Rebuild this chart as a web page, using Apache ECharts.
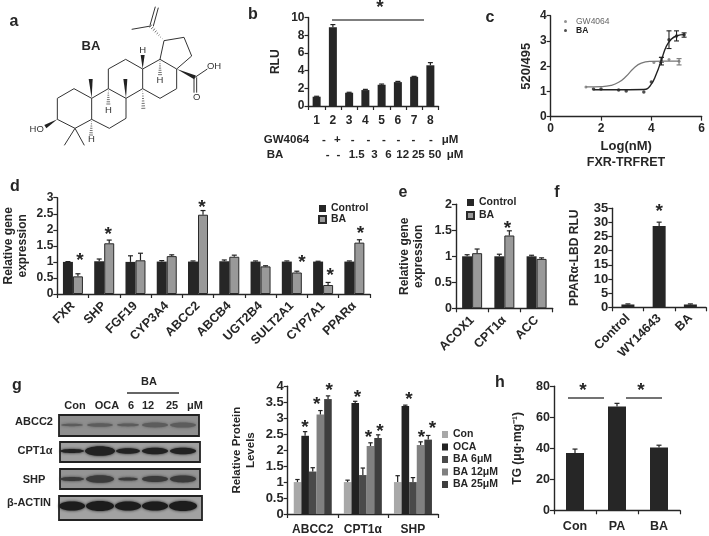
<!DOCTYPE html>
<html><head><meta charset="utf-8">
<script src="https://cdn.jsdelivr.net/npm/echarts@6/dist/echarts.min.js"></script>
<style>html,body{margin:0;padding:0;background:#fff}#c{width:709px;height:536px;filter:blur(0.4px)}</style>
</head><body><div id="c"></div>
<script>
// ---------- data ----------
const bCats = ['1','2','3','4','5','6','7','8'];
const bVals = [1.05,8.9,1.5,1.8,2.4,2.7,3.3,4.6];
const bErrs = [0.05,0.3,0.05,0.08,0.08,0.08,0.05,0.3];
const cGwCurve = [[1.4,1.18],[2,1.19],[2.4,1.24],[2.7,1.36],[3,1.6],[3.3,1.92],[3.6,2.12],[4,2.19],[4.5,2.2],[5.1,2.2]];
const cBaCurve = [[1.7,1.07],[2.5,1.07],[3.7,1.08],[3.95,1.22],[4.2,1.7],[4.4,2.25],[4.6,2.8],[4.8,3.08],[5,3.2],[5.3,3.25]];
const cGwPts = [[1.4,1.18],[4.1,2.15],[4.4,2.3],[4.7,2.27],[5.1,2.2]];
const cBaPts = [[1.7,1.1],[2,1.1],[2.7,1.06],[3,1.02],[3.7,0.98],[4,1.37],[4.4,2.2],[4.7,3.05],[5,3.2],[5.3,3.25]];
const cGwErr = [[5.1,2.05,2.3],[4.4,2.15,2.35]];
const cBaErr = [[4.7,2.7,3.4],[5,3.0,3.4],[5.3,3.15,3.32],[4.4,2.05,2.35]];
const dCats = ['FXR','SHP','FGF19','CYP3A4','ABCC2','ABCB4','UGT2B4','SULT2A1','CYP7A1','PPARα'];
const dCtrl = [1,1.02,1,1.01,1.01,1.02,1.01,1.01,1.01,1.01];
const dCtrlErr = [0.01,0.07,0.19,0.03,0.02,0.04,0.02,0.02,0.01,0.02];
const dBA = [0.55,1.58,1.05,1.18,2.47,1.16,0.86,0.67,0.28,1.6];
const dBAErr = [0.08,0.1,0.22,0.04,0.13,0.05,0.02,0.04,0.08,0.09];
const dStars = [[0,1.13],[1,1.94],[4,2.79],[7,1.06],[8,0.67],[9,1.96]];
const eCats = ['ACOX1','CPT1α','ACC'];
const eCtrl = [1,1,1];
const eCtrlErr = [0.03,0.04,0.02];
const eBA = [1.06,1.4,0.95];
const eBAErr = [0.08,0.09,0.02];
const eStars = [[1,1.59]];
const fCats = ['Control','WY14643','BA'];
const fVals = [1,28.7,1];
const fErrs = [0.2,1.4,0.2];
const fStars = [[1,35]];
const gCats = ['ABCC2','CPT1α','SHP'];
const gNames = ['Con','OCA','BA 6μM','BA 12μM','BA 25μM'];
const gVals = [[1,1,1],[2.45,3.48,3.38],[1.33,1.22,1],[3.12,2.13,2.16],[3.6,2.38,2.33]];
const gErrs = [[0.08,0.06,0.2],[0.13,0.05,0.03],[0.12,0.22,0.14],[0.12,0.1,0.1],[0.1,0.1,0.13]];
const gStars = [[0,1,2.78],[0,3,3.5],[0,4,3.94],[1,1,3.75],[1,3,2.49],[1,4,2.68],[2,1,3.68],[2,3,2.49],[2,4,2.77]];
const hCats = ['Con','PA','BA'];
const hVals = [37,67,40.5];
const hErrs = [2.5,2,1.5];
const gwRow = ['-','+','-','-','-','-','-','-','μM'];
const baRow = ['-','-','1.5','3','6','12','25','50','μM'];
const blotLanes = ['Con','OCA','6','12','25','μM'];
const blotRows = ['ABCC2','CPT1α','SHP','β-ACTIN'];

// ---------- style ----------
const F = '"Liberation Sans", Arial, sans-serif';
const INK = '#262626';
const DARK = '#262626', GREY = '#999999';
const gColors = ['#a8a8a8','#222222','#4a4a4a','#808080','#3e3e3e'];
const axisLine = {show:true,lineStyle:{color:INK,width:1.4}};
const axisTick = {show:true,length:4,lineStyle:{color:INK,width:1.2}};
const lbl = (size,extra)=>Object.assign({color:INK,fontFamily:F,fontWeight:'bold',fontSize:size,margin:4},extra||{});

const grids = [
 {left:308.5,top:17.5,width:130,height:88.5},   // b
 {left:550.7,top:15.7,width:151,height:101},    // c
 {left:57.3,top:197.7,width:312.7,height:96.3}, // d
 {left:456,top:204.3,width:96.7,height:104},    // e
 {left:612.3,top:208.3,width:93.7,height:99},   // f
 {left:287.7,top:386.3,width:150.3,height:129.4},// g
 {left:554,top:386.3,width:126,height:124}      // h
];
const xCat = (i,cats,size,extra)=>({type:'category',gridIndex:i,data:cats,axisLine,axisTick:Object.assign({alignWithLabel:false},axisTick),
  axisLabel:lbl(size,Object.assign({interval:0},extra||{})),splitLine:{show:false}});
const yVal = (i,max,step,size,name,gap,nameSize)=>({type:'value',gridIndex:i,min:0,max,interval:step,axisLine,axisTick,
  axisLabel:lbl(size),splitLine:{show:false},name,nameLocation:'middle',nameGap:gap,nameRotate:90,
  nameTextStyle:{color:INK,fontFamily:F,fontWeight:'bold',fontSize:nameSize||size,lineHeight:14}});

const bar = (name,idx,vals,w,color,border)=>({type:'bar',name,xAxisIndex:idx,yAxisIndex:idx,data:vals,barWidth:w,barGap:'0%',
  itemStyle:{color,borderColor:border||'#222',borderWidth:border?1:0},silent:true,z:2});
// upward error bars, placed with the library's own scales
const errBars = (idx,vals,errs,offset,cap)=>({type:'custom',xAxisIndex:idx,yAxisIndex:idx,clip:false,z:3,silent:true,
  data:vals.map((v,i)=>[i,v,v+errs[i]]),encode:{x:0,y:[1,2]},
  renderItem(p,api){const a=api.coord([api.value(0),api.value(1)]),b=api.coord([api.value(0),api.value(2)]);
    const x=a[0]+offset,st={stroke:'#222',lineWidth:1.2};
    return {type:'group',children:[
      {type:'line',shape:{x1:x,y1:a[1],x2:x,y2:b[1]},style:st},
      {type:'line',shape:{x1:x-cap,y1:b[1],x2:x+cap,y2:b[1]},style:st}]};}});
const stars = (idx,pts,offsetOf)=>({type:'custom',xAxisIndex:idx,yAxisIndex:idx,clip:false,z:4,silent:true,
  data:pts.map(p=>[p[0],p[p.length-1],p.length>2?p[1]:0]),encode:{x:0,y:1},
  renderItem(p,api){const c=api.coord([api.value(0),api.value(1)]);
    return {type:'text',x:c[0]+offsetOf(p.dataIndex,api.value(2)),y:c[1]+3,
      style:{text:'*',font:'bold 19px '+F,fill:INK,align:'center',verticalAlign:'middle'}};}});
const xyErr = (idx,rows,color)=>({type:'custom',xAxisIndex:idx,yAxisIndex:idx,clip:false,z:3,silent:true,
  data:rows,encode:{x:0,y:[1,2]},
  renderItem(p,api){const a=api.coord([api.value(0),api.value(1)]),b=api.coord([api.value(0),api.value(2)]);
    const st={stroke:color,lineWidth:1.1},w=2.5;
    return {type:'group',children:[
      {type:'line',shape:{x1:a[0],y1:a[1],x2:b[0],y2:b[1]},style:st},
      {type:'line',shape:{x1:a[0]-w,y1:a[1],x2:a[0]+w,y2:a[1]},style:st},
      {type:'line',shape:{x1:b[0]-w,y1:b[1],x2:b[0]+w,y2:b[1]},style:st}]};}});

const series = [];
// b
series.push(bar('b',0,bVals,8,DARK),errBars(0,bVals,bErrs,0,2.5));
// c
series.push({type:'line',xAxisIndex:1,yAxisIndex:1,data:cGwCurve,smooth:0.5,showSymbol:false,lineStyle:{color:'#777',width:1.2},silent:true});
series.push({type:'line',xAxisIndex:1,yAxisIndex:1,data:cBaCurve,smooth:0.5,showSymbol:false,lineStyle:{color:'#222',width:1.4},silent:true});
series.push({type:'scatter',name:'GW4064',xAxisIndex:1,yAxisIndex:1,data:cGwPts,symbolSize:3,itemStyle:{color:'#777'},silent:true});
series.push({type:'scatter',name:'BA ',xAxisIndex:1,yAxisIndex:1,data:cBaPts,symbolSize:3.5,itemStyle:{color:'#222'},silent:true});
series.push(xyErr(1,cGwErr,'#777'),xyErr(1,cBaErr,'#222'));
// d
series.push(bar('Control',2,dCtrl,10,DARK),bar('BA',2,dBA,10,GREY,'#2a2a2a'));
series.push(errBars(2,dCtrl,dCtrlErr,-5,2.5),errBars(2,dBA,dBAErr,5,2.5));
const dShift=[7,4,4,10,7,6];
series.push(stars(2,dStars,i=>dShift[i]));
// e
series.push(bar('Control',3,eCtrl,10,DARK),bar('BA',3,eBA,10,GREY,'#2a2a2a'));
series.push(errBars(3,eCtrl,eCtrlErr,-5,2.5),errBars(3,eBA,eBAErr,5,2.5));
series.push(stars(3,eStars,()=>3));
// f
series.push(bar('f',4,fVals,13,DARK),errBars(4,fVals,fErrs,0,2.5),stars(4,fStars,()=>0));
// g
gNames.forEach((n,s)=>{
  series.push(Object.assign(bar(n,5,gVals[s],7.6,gColors[s]),{barGap:'0%'}));
  series.push(errBars(5,gVals[s],gErrs[s],(s-2)*7.65,2.2));
});
const gStarX=[-7.7,4,16.5,-5.5,5.5,17,-4,8.5,19.5];
series.push(stars(5,gStars,i=>gStarX[i]));
// h
series.push(bar('h',6,hVals,18,DARK),errBars(6,hVals,hErrs,0,2.5));

const xAxis = [
 xCat(0,bCats,12,{margin:9}),
 {type:'value',gridIndex:1,min:0,max:6,interval:2,axisLine,axisTick,axisLabel:lbl(12,{margin:6}),splitLine:{show:false},
  name:'Log(nM)',nameLocation:'middle',nameGap:23,nameTextStyle:{color:INK,fontFamily:F,fontWeight:'bold',fontSize:13}},
 xCat(2,dCats,12.5,{rotate:45,margin:10}),
 xCat(3,eCats,12.5,{rotate:45,margin:10}),
 xCat(4,fCats,12.5,{rotate:45,margin:9}),
 xCat(5,gCats,12,{margin:10}),
 xCat(6,hCats,12.5,{margin:10})
];
const yAxis = [
 yVal(0,10,2,12,'RLU',26),
 yVal(1,4,1,12,'520/495',17,13),
 yVal(2,3,0.5,12,'Relative gene\nexpression',28),
 yVal(3,2,0.5,12.5,'Relative gene\nexpression',30,12),
 yVal(4,35,5,13,'PPARα-LBD RLU',31,12),
 yVal(5,4,0.5,13,'Relative Protein\nLevels',30,11.5),
 yVal(6,80,20,12.5,'TG (μg·mg⁻¹)',29,12)
];

const legTxt = (s,w,c)=>({color:c||INK,fontFamily:F,fontWeight:w||'bold',fontSize:s});
const legend = [
 {left:313,top:198,orient:'vertical',icon:'rect',data:['Control','BA'],itemWidth:7,itemHeight:7,itemGap:0,textStyle:legTxt(10.5),selectedMode:false},
 {left:461,top:192,orient:'vertical',icon:'rect',data:['Control','BA'],itemWidth:7,itemHeight:7,itemGap:2,textStyle:legTxt(10.5),selectedMode:false},
 {left:559,top:12,orient:'vertical',itemWidth:3,itemHeight:3,itemGap:0,selectedMode:false,
   data:[{name:'GW4064',textStyle:Object.assign(legTxt(8.5,'normal','#666'),{padding:[0,0,0,4]})},
         {name:'BA ',textStyle:Object.assign(legTxt(8.5,'bold','#222'),{padding:[0,0,0,4]})}],
   textStyle:legTxt(8.5)},
 {left:437,top:424,orient:'vertical',icon:'rect',data:gNames,itemWidth:6,itemHeight:7,itemGap:1.5,textStyle:legTxt(10.5),selectedMode:false}
];

// ---------- decorative elements ----------
const T=(text,x,y,size,extra)=>({type:'text',x,y,silent:true,style:Object.assign({text,fill:INK,font:'bold '+size+'px '+F,align:'center',verticalAlign:'middle'},extra||{})});
const L=(x1,y1,x2,y2,w,c)=>({type:'line',silent:true,shape:{x1,y1,x2,y2},style:{stroke:c||'#444',lineWidth:w||1.4}});
const graphic = [];
// panel letters
[['a',14,22],['b',253,15],['c',490,18],['d',15,187],['e',403,193],['f',557,193],['g',17,386],['h',500,383]]
  .forEach(p=>graphic.push(T(p[0],p[1],p[2],16)));
// panel b rows
const gwX=[252,292,338,385,432,475,520,573,630], baX=[263,295,350,403,445,488,535,585,645];
gwRow.forEach((t,i)=>graphic.push(T(t,240+gwX[i]/3,139.5,11.5)));
baRow.forEach((t,i)=>graphic.push(T(t,240+baX[i]/3,155,11.5)));
graphic.push(T('GW4064',286.5,139.5,11.5),T('BA',275,155,11.5));
graphic.push(L(332,20,424,20,1.4,'#555'),T('*',380,8,19));
// panel c bottom title
graphic.push(T('FXR-TRFRET',626,162.5,12.5));
// panel h brackets
graphic.push(L(568,398,604,398,1.4,'#444'),L(626,398,662,398,1.4,'#444'),T('*',583,391,19),T('*',641,391,19));
// molecule (drawn as decoration)
const k=v=>v/3;
const bonds=[[172,358,172,295],[172,295,222,266],[222,266,275,295],[275,295,275,358],[275,358,225,385],[225,385,172,358],
[275,295,325,266],[325,266,378,295],[378,295,378,355],[378,355,328,385],[328,385,275,358],
[325,266,325,207],[325,207,377,178],[377,178,428,207],[428,207,428,266],[428,266,378,295],
[428,207,480,178],[480,178,530,207],[530,207,530,266],[530,266,480,295],[480,295,428,266],
[480,178,492,122],[492,122,552,112],[552,112,575,168],[575,168,530,207],
[225,385,193,436],[225,385,253,436],[452,78,395,88],[450,76,466,20],[460,78,475,23],
[585,232,622,207],[582,232,582,278],[590,232,590,278]];
bonds.forEach(b=>graphic.push(L(k(b[0]),k(b[1]),k(b[2]),k(b[3]),1,'#333')));
const wedge=(x1,y1,x2,y2)=>{const dx=x2-x1,dy=y2-y1,n=Math.hypot(dx,dy),ox=-dy/n*6,oy=dx/n*6;
  graphic.push({type:'polygon',silent:true,shape:{points:[[k(x1),k(y1)],[k(x2+ox),k(y2+oy)],[k(x2-ox),k(y2-oy)]]},style:{fill:'#222'}});};
const hash=(x1,y1,x2,y2)=>{const dx=x2-x1,dy=y2-y1,n=Math.hypot(dx,dy),m=Math.round(n/7);
  for(let i=1;i<=m;i++){const t=i/m,ox=-dy/n*6*t,oy=dx/n*6*t,cx=x1+dx*t,cy=y1+dy*t;
    graphic.push(L(k(cx+ox),k(cy+oy),k(cx-ox),k(cy-oy),0.7,'#333'));}};
wedge(172,358,136,380);wedge(275,295,272,237);wedge(378,295,376,237);wedge(428,207,428,165);wedge(530,207,585,232);
hash(428,266,430,325);hash(275,358,273,405);hash(325,266,325,312);hash(480,178,480,224);hash(492,122,452,78);
const chem=(t,x,y)=>graphic.push(T(t,k(x),k(y),9.5,{font:'9.5px '+F,fill:'#333'}));
chem('HO',110,387);chem('H',274,418);chem('H',325,330);chem('H',428,150);chem('H',480,240);chem('OH',642,198);chem('O',590,292);
graphic.push(T('BA',91,46,13));
// western blot panels
blotRows.forEach((t,i)=>graphic.push(T(t,[34,35,34,29][i],[422,451,480,503][i],11)));
const laneX=[75,107,131,148,172,195];
blotLanes.forEach((t,i)=>graphic.push(T(t,laneX[i],406,11)));
graphic.push(T('BA',149,382,11),L(127,393,179,393,1.3,'#333'));
const boxes=[[59,415,140,21,'#8f8f8f'],[60,442,140,20,'#a0a0a0'],[60,469,140,20,'#949494'],[59,496,143,24,'#a2a2a2']];
boxes.forEach(b=>graphic.push({type:'rect',silent:true,shape:{x:b[0],y:b[1],width:b[2],height:b[3]},style:{fill:b[4],stroke:'#222',lineWidth:1.8}}));
const lanes=[72,100,128,155,183];
const bands=[ // row centre, half-heights per lane, half-widths, darkness
 [425,[1.2,1.8,1.4,2.4,2.6],[11,13,11,13,13],'#5c5c5c'],
 [451,[2,4.8,2.8,3.2,3.2],[12,15,12,13,13],'#222'],
 [479,[2,3.8,1.6,3,3.4],[12,14,10,13,13],'#3a3a3a'],
 [506,[4.5,5,4.5,4.5,5],[13,14,13,13,14],'#1c1c1c']];
bands.forEach(r=>lanes.forEach((x,i)=>graphic.push({type:'ellipse',silent:true,shape:{cx:x,cy:r[0],rx:r[2][i],ry:r[1][i]},
  style:{fill:r[3],shadowBlur:3,shadowColor:r[3]}})));

const chart = echarts.init(document.getElementById('c'),null,{renderer:'canvas'});
chart.setOption({animation:false,backgroundColor:'#fff',grid:grids,xAxis,yAxis,series,legend,graphic:{elements:graphic},tooltip:{show:false}});
</script></body></html>
